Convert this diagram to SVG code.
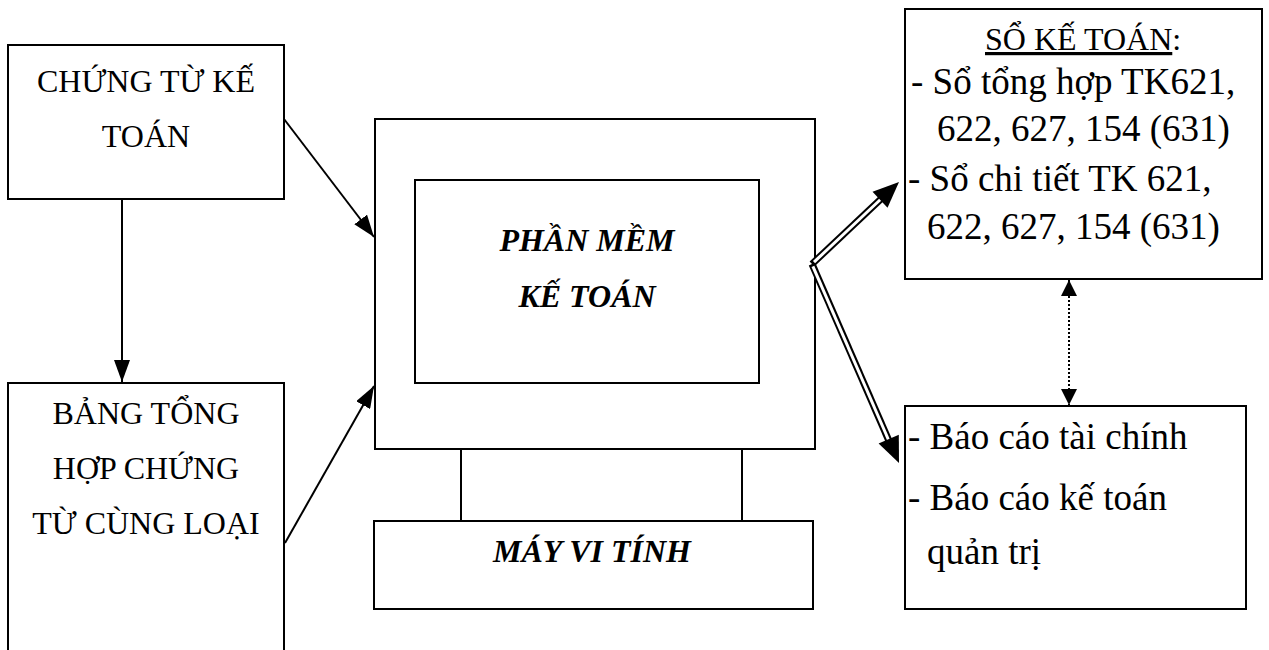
<svg xmlns="http://www.w3.org/2000/svg" width="1269" height="650" viewBox="0 0 1269 650">
<defs>
<style>
.box{fill:#fff;stroke:#000;stroke-width:2}
.ln{fill:none;stroke:#000;stroke-width:2}
.t{font-family:"Liberation Serif","Times New Roman",serif;fill:#000}
.t32{font-size:32px}
.t37{font-size:37px}
.bi{font-weight:bold;font-style:italic;font-size:32px}
.mid{text-anchor:middle}
.dbl-o{stroke:#000;stroke-width:7;fill:none}
.dbl-i{stroke:#fff;stroke-width:3;fill:none}
</style>
<marker id="ah" markerUnits="userSpaceOnUse" viewBox="0 0 22 16" refX="22" refY="8" markerWidth="22" markerHeight="16" orient="auto">
<path d="M0,0 L22,8 L0,16 z" fill="#000"/>
</marker>
<marker id="ahs" markerUnits="userSpaceOnUse" viewBox="0 0 16 16" refX="16" refY="8" markerWidth="16" markerHeight="16" orient="auto-start-reverse">
<path d="M0,0 L16,8 L0,16 z" fill="#000"/>
</marker>
</defs>
<rect width="1269" height="650" fill="#fff"/>

<g id="chung-tu">
<rect class="box" x="8" y="45" width="276" height="154"/>
<text class="t t32 mid" x="146" y="92">CHỨNG TỪ KẾ</text>
<text class="t t32 mid" x="146" y="147">TOÁN</text>
</g>

<g id="bang-tong-hop">
<rect class="box" x="8" y="383" width="276" height="290"/>
<text class="t t32 mid" x="146" y="424">BẢNG TỔNG</text>
<text class="t t32 mid" x="146" y="479">HỢP CHỨNG</text>
<text class="t t32 mid" x="146" y="534">TỪ CÙNG LOẠI</text>
</g>

<g id="may-vi-tinh">
<rect class="box" x="375" y="119" width="440" height="330"/>
<rect class="box" x="415" y="180" width="344" height="203"/>
<line class="ln" x1="461" y1="449" x2="461" y2="521"/>
<line class="ln" x1="742" y1="449" x2="742" y2="521"/>
<rect class="box" x="374" y="521" width="439" height="88"/>
<text class="t bi mid" x="587" y="251">PHẦN MỀM</text>
<text class="t bi mid" x="587" y="307">KẾ TOÁN</text>
<text class="t bi mid" x="592" y="562">MÁY VI TÍNH</text>
</g>

<g id="so-ke-toan">
<rect class="box" x="905" y="9" width="357" height="270"/>
<text class="t t32" x="985" y="50"><tspan text-decoration="underline">SỔ KẾ TOÁN</tspan>:</text>
<text class="t t37" x="911" y="94">- Sổ tổng hợp TK621,</text>
<text class="t t37" x="937" y="141">622, 627, 154 (631)</text>
<text class="t t37" x="908" y="191">- Sổ chi tiết TK 621,</text>
<text class="t t37" x="927" y="239">622, 627, 154 (631)</text>
</g>

<g id="bao-cao">
<rect class="box" x="905" y="406" width="341" height="203"/>
<text class="t t37" x="908" y="449">- Báo cáo tài chính</text>
<text class="t t37" x="908" y="510">- Báo cáo kế toán</text>
<text class="t t37" x="927" y="564">quản trị</text>
</g>

<g id="connectors">
<line class="ln" x1="122" y1="199" x2="122" y2="382" marker-end="url(#ah)"/>
<line class="ln" x1="284" y1="119" x2="374" y2="237" marker-end="url(#ah)"/>
<line class="ln" x1="285" y1="543" x2="374" y2="386" marker-end="url(#ah)"/>
<line x1="1069" y1="280" x2="1069" y2="405" stroke="#000" stroke-width="2" stroke-dasharray="2,2" marker-start="url(#ahs)" marker-end="url(#ahs)"/>
<line class="dbl-o" x1="812" y1="264" x2="882" y2="198"/>
<line class="dbl-o" x1="812" y1="264" x2="889" y2="441"/>
<line class="dbl-i" x1="814" y1="262.1" x2="882" y2="198"/>
<line class="dbl-i" x1="812.9" y1="266.3" x2="889" y2="441"/>
<polygon points="899,182 887.5,207.8 872.5,191.8" fill="#000"/>
<polygon points="899,463 898.8,434.8 878.6,443.6" fill="#000"/>
</g>
</svg>
